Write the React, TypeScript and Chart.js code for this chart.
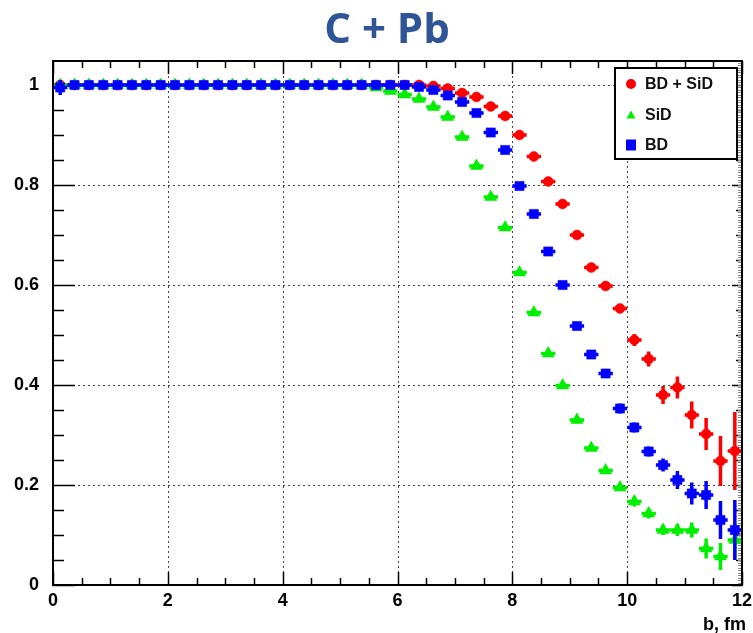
import React, { useEffect, useRef } from 'react';
import { Chart, registerables } from 'chart.js';

Chart.register(...registerables);

// Bin centres of impact parameter b, fm
const bCenters = [
  0.125, 0.375, 0.625, 0.875, 1.125, 1.375, 1.625, 1.875, 2.125, 2.375, 2.625, 2.875,
  3.125, 3.375, 3.625, 3.875, 4.125, 4.375, 4.625, 4.875, 5.125, 5.375, 5.625, 5.875,
  6.125, 6.375, 6.625, 6.875, 7.125, 7.375, 7.625, 7.875, 8.125, 8.375, 8.625, 8.875,
  9.125, 9.375, 9.625, 9.875, 10.125, 10.375, 10.625, 10.875, 11.125, 11.375, 11.625, 11.875,
];
const binHalfWidth = 0.125;

// BD + SiD (red)
const bdSid = [
  1, 1, 1, 1, 1, 1, 1, 1, 1, 1, 1, 1, 1, 1, 1, 1, 1, 1, 1, 1, 1, 1, 1, 1, 1, 1,
  0.998, 0.993, 0.984, 0.976, 0.957, 0.938, 0.9, 0.857, 0.807, 0.762, 0.7, 0.635,
  0.598, 0.553, 0.49, 0.452, 0.38, 0.395, 0.34, 0.302, 0.248, 0.268,
];
const bdSidErr = [
  0.002, 0.002, 0.002, 0.002, 0.002, 0.002, 0.002, 0.002, 0.002, 0.002, 0.002, 0.002, 0.002,
  0.002, 0.002, 0.002, 0.002, 0.002, 0.002, 0.002, 0.002, 0.002, 0.002, 0.002, 0.002, 0.002,
  0.005, 0.005, 0.005, 0.005, 0.005, 0.005, 0.005, 0.005, 0.005, 0.005,
  0.008, 0.008, 0.008, 0.008,
  0.012, 0.015, 0.018, 0.022, 0.027, 0.032, 0.05, 0.078,
];

// SiD (green)
const sid = [
  1, 1, 1, 1, 1, 1, 1, 1, 1, 1, 1, 1, 1, 1, 1, 1, 1, 1, 1, 1, 1, 1,
  0.995, 0.988, 0.981, 0.972, 0.956, 0.936, 0.896, 0.838, 0.776, 0.715, 0.625, 0.545,
  0.463, 0.399, 0.33, 0.274, 0.229, 0.195, 0.167, 0.143, 0.11, 0.11, 0.11, 0.073, 0.057, 0.09,
];
const sidErr = [
  0.002, 0.002, 0.002, 0.002, 0.002, 0.002, 0.002, 0.002, 0.002, 0.002, 0.002, 0.002, 0.002, 0.002,
  0.002, 0.002, 0.002, 0.002, 0.002, 0.002, 0.002, 0.002, 0.002, 0.002, 0.002, 0.002, 0.002, 0.002,
  0.005, 0.005, 0.005, 0.005, 0.005, 0.005, 0.005, 0.005, 0.005, 0.005, 0.005, 0.005,
  0.01, 0.01, 0.01,
  0.012, 0.015, 0.02, 0.027, 0.035,
];

// BD (blue)
const bd = [
  0.995, 1, 1, 1, 1, 1, 1, 1, 1, 1, 1, 1, 1, 1, 1, 1, 1, 1, 1, 1, 1, 1, 1, 1, 1,
  0.996, 0.99, 0.979, 0.966, 0.944, 0.905, 0.87, 0.798, 0.742, 0.667, 0.6, 0.518,
  0.461, 0.423, 0.353, 0.315, 0.267, 0.24, 0.21, 0.183, 0.18, 0.13, 0.11,
];
const bdErr = [
  0.015,
  0.002, 0.002, 0.002, 0.002, 0.002, 0.002, 0.002, 0.002, 0.002, 0.002, 0.002, 0.002, 0.002, 0.002,
  0.002, 0.002, 0.002, 0.002, 0.002, 0.002, 0.002, 0.002, 0.002, 0.002, 0.002, 0.002, 0.002,
  0.005, 0.005, 0.005, 0.005, 0.005, 0.005, 0.005, 0.005, 0.005, 0.005, 0.005,
  0.01, 0.01, 0.01,
  0.013, 0.018, 0.022, 0.028, 0.038, 0.06,
];

const titleText = 'C + Pb';
const xAxisTitle = 'b, fm';
const seriesLabels = ['BD + SiD', 'SiD', 'BD'];
const seriesColors = ['#ff0000', '#00ee00', '#0000ff'];
const seriesStyles = ['circle', 'triangle', 'rect'];

const xTicks = [0, 2, 4, 6, 8, 10, 12];
const yTicks = [0, 0.2, 0.4, 0.6, 0.8, 1];
const yTickLabels = ['0', '0.2', '0.4', '0.6', '0.8', '1'];
const xMinorStep = 0.5;
const yMinorStep = 0.05;
const xMax = 12;
const yMax = 1.048;

const errorBarsPlugin = {
  id: 'errorBars',
  beforeDatasetDraw(chart: any, args: any) {
    const ds = chart.data.datasets[args.index];
    const errs: number[] = ds.errors;
    if (!errs) return;
    const { ctx, chartArea, scales } = chart;
    const x = scales.x;
    const y = scales.y;
    ctx.save();
    ctx.beginPath();
    ctx.rect(chartArea.left, chartArea.top, chartArea.right - chartArea.left, chartArea.bottom - chartArea.top);
    ctx.clip();
    ctx.strokeStyle = ds.backgroundColor;
    ctx.lineWidth = 3.5;
    ctx.lineCap = 'butt';
    ds.data.forEach((p: any, i: number) => {
      const px1 = x.getPixelForValue(p.x - binHalfWidth);
      const px2 = x.getPixelForValue(p.x + binHalfWidth);
      const pxc = x.getPixelForValue(p.x);
      const py = y.getPixelForValue(p.y);
      const pyLo = y.getPixelForValue(p.y - errs[i]);
      const pyHi = y.getPixelForValue(p.y + errs[i]);
      ctx.beginPath();
      ctx.moveTo(px1, py);
      ctx.lineTo(px2, py);
      ctx.moveTo(pxc, pyLo);
      ctx.lineTo(pxc, pyHi);
      ctx.stroke();
    });
    ctx.restore();
  },
};

function drawMarker(ctx: CanvasRenderingContext2D, style: string, cx: number, cy: number, color: string) {
  ctx.fillStyle = color;
  ctx.beginPath();
  if (style === 'circle') {
    ctx.arc(cx, cy, 5, 0, Math.PI * 2);
  } else if (style === 'triangle') {
    ctx.moveTo(cx, cy - 4.5);
    ctx.lineTo(cx + 4.5, cy + 3.5);
    ctx.lineTo(cx - 4.5, cy + 3.5);
    ctx.closePath();
  } else {
    ctx.rect(cx - 5, cy - 5.5, 10, 11);
  }
  ctx.fill();
}

const framePlugin = {
  id: 'rootFrame',
  beforeDatasetsDraw(chart: any) {
    const { ctx, chartArea, scales } = chart;
    const { left, right, top, bottom } = chartArea;
    const x = scales.x;
    const y = scales.y;
    ctx.save();
    // dotted grid
    ctx.strokeStyle = '#444';
    ctx.lineWidth = 1;
    ctx.setLineDash([2, 3]);
    xTicks.forEach((v) => {
      if (v <= 0 || v >= xMax) return;
      const px = Math.round(x.getPixelForValue(v)) + 0.5;
      ctx.beginPath();
      ctx.moveTo(px, top);
      ctx.lineTo(px, bottom);
      ctx.stroke();
    });
    yTicks.forEach((v) => {
      if (v <= 0) return;
      const py = Math.round(y.getPixelForValue(v)) + 0.5;
      ctx.beginPath();
      ctx.moveTo(left, py);
      ctx.lineTo(right, py);
      ctx.stroke();
    });
    ctx.setLineDash([]);
    // tick marks (inward, ROOT style)
    ctx.strokeStyle = '#000';
    ctx.lineWidth = 1.5;
    ctx.beginPath();
    for (let v = 0; v <= xMax + 1e-9; v += xMinorStep) {
      const major = xTicks.some((t) => Math.abs(t - v) < 1e-6);
      const len = major ? 13 : 7;
      const px = Math.round(x.getPixelForValue(v)) + 0.5;
      ctx.moveTo(px, bottom);
      ctx.lineTo(px, bottom - len);
      ctx.moveTo(px, top);
      ctx.lineTo(px, top + len);
    }
    for (let v = 0; v <= yMax + 1e-9; v += yMinorStep) {
      const major = yTicks.some((t) => Math.abs(t - v) < 1e-6);
      const len = major ? 22 : 11;
      const py = Math.round(y.getPixelForValue(v)) + 0.5;
      ctx.moveTo(left, py);
      ctx.lineTo(left + len, py);
      ctx.moveTo(right, py);
      ctx.lineTo(right - (major ? 10 : 6), py);
    }
    ctx.stroke();
    // fine ruler ticks on the right edge
    ctx.strokeStyle = '#888';
    ctx.lineWidth = 1;
    ctx.beginPath();
    for (let v = 0; v <= yMax; v += 0.005) {
      const py = Math.round(y.getPixelForValue(v)) + 0.5;
      ctx.moveTo(right, py);
      ctx.lineTo(right - 4, py);
    }
    ctx.stroke();
    ctx.restore();
  },
  afterDatasetsDraw(chart: any) {
    const { ctx, chartArea } = chart;
    const { left, right, top, bottom } = chartArea;
    ctx.save();
    // frame
    ctx.strokeStyle = '#000';
    ctx.lineWidth = 2;
    ctx.strokeRect(left, top, right - left, bottom - top);
    // legend box
    const lx = 615;
    const ly = 68;
    const lw = 122;
    const lh = 91;
    ctx.fillStyle = '#fff';
    ctx.fillRect(lx, ly, lw, lh);
    ctx.strokeStyle = '#000';
    ctx.lineWidth = 2;
    ctx.strokeRect(lx, ly, lw, lh);
    const rowsY = [84, 115, 145];
    ctx.font = 'bold 16px "Liberation Sans", Arial, sans-serif';
    ctx.textBaseline = 'middle';
    ctx.textAlign = 'left';
    seriesLabels.forEach((lab, i) => {
      drawMarker(ctx, seriesStyles[i], 631, rowsY[i], seriesColors[i]);
      ctx.fillStyle = '#111';
      ctx.fillText(lab, 645, rowsY[i] + 1);
    });
    // x axis title
    ctx.font = 'bold 18px "Liberation Sans", Arial, sans-serif';
    ctx.fillStyle = '#000';
    ctx.textAlign = 'right';
    ctx.textBaseline = 'middle';
    ctx.fillText(xAxisTitle, 746, 625);
    // chart title
    ctx.font = 'bold 42px "Open Sans", "Noto Sans", sans-serif';
    ctx.fillStyle = '#2F5597';
    ctx.textAlign = 'center';
    ctx.textBaseline = 'middle';
    ctx.fillText(titleText, 387, 31);
    ctx.restore();
  },
};

export default function App() {
  const canvasRef = useRef<HTMLCanvasElement | null>(null);

  useEffect(() => {
    document.body.style.margin = '0';
    const canvas = canvasRef.current;
    if (!canvas) return;
    const values = [bdSid, sid, bd];
    const errors = [bdSidErr, sidErr, bdErr];
    const orders = [3, 2, 1];
    const radii = [5, 7, 6.5];
    const chart = new Chart(canvas, {
      type: 'scatter',
      data: {
        datasets: seriesLabels.map((label, k) => ({
          label,
          data: bCenters.map((b, i) => ({ x: b, y: values[k][i] })),
          errors: errors[k],
          pointStyle: seriesStyles[k],
          pointRadius: radii[k],
          pointHoverRadius: radii[k],
          backgroundColor: seriesColors[k],
          borderColor: seriesColors[k],
          borderWidth: 0.5,
          order: orders[k],
        })) as any,
      },
      options: {
        animation: false,
        responsive: false,
        devicePixelRatio: 1,
        layout: { padding: { left: 0, right: 11, top: 61, bottom: 0 } },
        plugins: {
          legend: { display: false },
          tooltip: { enabled: false },
          title: { display: false },
        },
        scales: {
          x: {
            type: 'linear',
            min: 0,
            max: xMax,
            afterBuildTicks: (s: any) => {
              s.ticks = xTicks.map((v) => ({ value: v }));
            },
            afterFit: (s: any) => {
              s.height = 48;
            },
            grid: { display: false },
            border: { display: false },
            ticks: {
              color: '#000',
              font: { family: '"Liberation Sans", Arial, sans-serif', size: 18, weight: 'bold' },
              padding: -3,
              maxRotation: 0,
              autoSkip: false,
            },
          },
          y: {
            type: 'linear',
            min: 0,
            max: yMax,
            afterBuildTicks: (s: any) => {
              s.ticks = yTicks.map((v) => ({ value: v }));
            },
            afterFit: (s: any) => {
              s.width = 53;
            },
            grid: { display: false },
            border: { display: false },
            ticks: {
              color: '#000',
              font: { family: '"Liberation Sans", Arial, sans-serif', size: 18, weight: 'bold' },
              padding: 6,
              autoSkip: false,
              callback: (_v: any, i: number) => yTickLabels[i],
            },
          },
        },
      },
      plugins: [errorBarsPlugin, framePlugin],
    } as any);
    return () => chart.destroy();
  }, []);

  return (
    <div style={{ width: 753, height: 633 }}>
      <canvas ref={canvasRef} width={753} height={633} style={{ width: 753, height: 633, display: 'block' }} />
    </div>
  );
}
